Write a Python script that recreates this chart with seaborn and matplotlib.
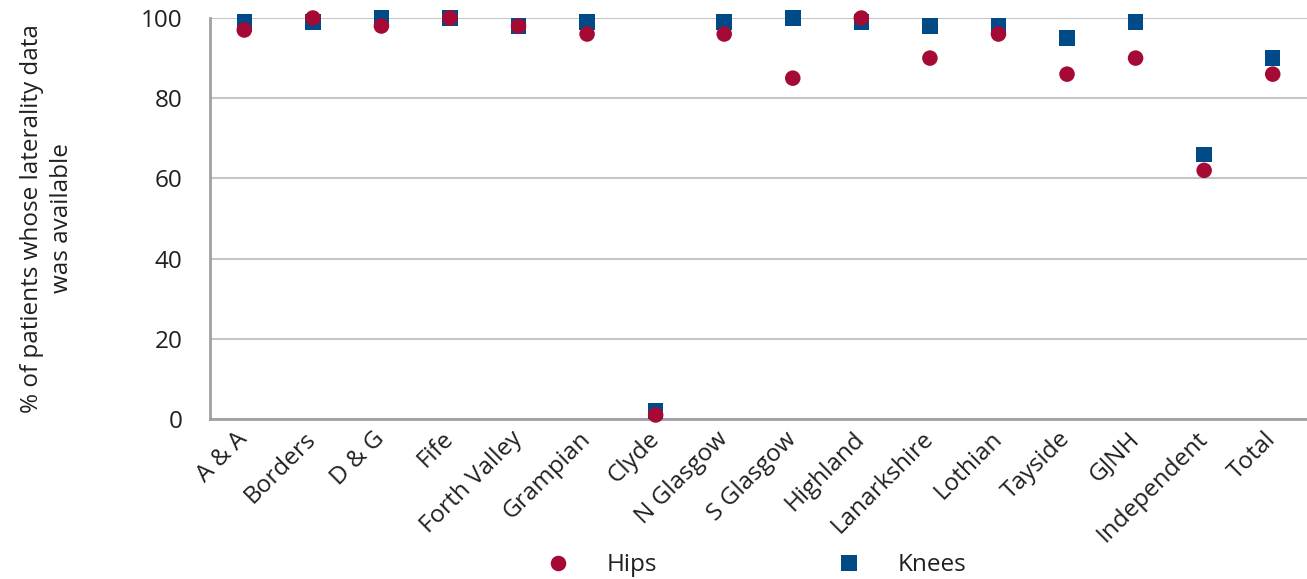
import pandas as pd
import numpy as np
import seaborn as sns
import matplotlib.pyplot as plt
from matplotlib.ticker import FixedLocator

# data
boards = ["A & A", "Borders", "D & G", "Fife", "Forth Valley", "Grampian", "Clyde",
          "N Glasgow", "S Glasgow", "Highland", "Lanarkshire", "Lothian", "Tayside",
          "GJNH", "Independent", "Total"]
hips = [97, 100, 98, 100, 98, 96, 1, 96, 85, 100, 90, 96, 86, 90, 62, 86]
knees = [99, 99, 100, 100, 98, 99, 2, 99, 100, 99, 98, 98, 95, 99, 66, 90]

# knees first so the hips circles are drawn on top
df = pd.concat([
    pd.DataFrame({"board": boards, "pct": knees, "joint": "Knees"}),
    pd.DataFrame({"board": boards, "pct": hips, "joint": "Hips"}),
], ignore_index=True)
df["pos"] = df["board"].map({b: i for i, b in enumerate(boards)})

sns.set_style("white")
plt.rcParams["font.family"] = ["Open Sans", "DejaVu Sans"]
text_col = "#231f20"
fs = 17.5

fig = plt.figure(figsize=(13.07, 5.79), dpi=100)
ax = fig.add_axes([210 / 1307, 1 - 419 / 579, 1 - 210 / 1307, (419 - 18) / 579])

sns.scatterplot(data=df, x="pos", y="pct", hue="joint", style="joint",
                hue_order=["Hips", "Knees"], style_order=["Hips", "Knees"],
                palette={"Hips": "#a50a35", "Knees": "#004a87"},
                markers={"Hips": "o", "Knees": "s"}, s=125, linewidth=0,
                clip_on=False, zorder=3, ax=ax)

ax.set_xlim(-0.5, len(boards) - 0.5)
ax.set_ylim(0, 100)
ax.set_yticks([0, 20, 40, 60, 80, 100])
ax.yaxis.grid(True, color="#c6c6c6", linewidth=1.5)
ax.set_axisbelow(True)

ax.set_xticks(range(len(boards)))
ax.set_xticklabels(boards, rotation=45, ha="right", va="center",
                   rotation_mode="anchor", fontsize=fs, color=text_col)
ax.xaxis.set_minor_locator(FixedLocator(np.arange(-0.5, len(boards), 1)))
ax.tick_params(axis="x", which="major", length=0, pad=12)
ax.tick_params(axis="x", which="minor", length=13, width=1.5, color="#c6c6c6")
ax.tick_params(axis="y", length=14, width=1, color="#b0b0b0", pad=6,
               labelsize=fs, labelcolor=text_col)

for side in ["top", "right"]:
    ax.spines[side].set_visible(False)
for side in ["left", "bottom"]:
    ax.spines[side].set_color("#a0a0a0")
    ax.spines[side].set_linewidth(2)

ax.set_xlabel("")
ax.set_ylabel("% of patients whose laterality data\nwas available",
              fontsize=fs, color=text_col, labelpad=48, linespacing=1.35)

handles, labels = ax.get_legend_handles_labels()
ax.get_legend().remove()
fig.legend(handles, labels, loc="center", bbox_to_anchor=(0.5785, 0.024), ncol=2,
           frameon=False, fontsize=fs, handlelength=1, handletextpad=1.5,
           columnspacing=7.4, labelcolor=text_col)

fig.savefig("out.png", dpi=100)
